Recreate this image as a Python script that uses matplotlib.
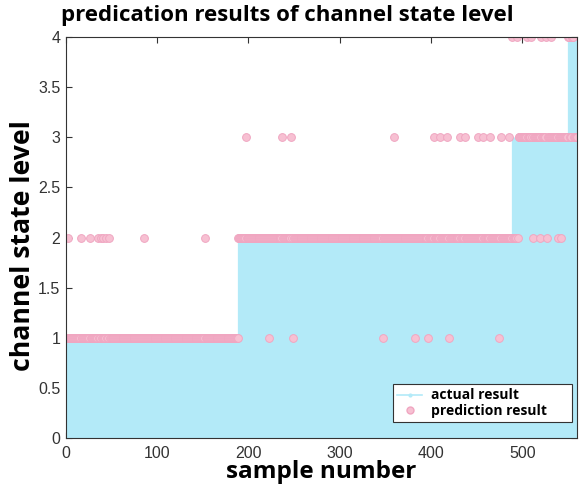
import numpy as np
import matplotlib
matplotlib.use("Agg")
import matplotlib.pyplot as plt
from matplotlib.lines import Line2D
from matplotlib.ticker import FormatStrFormatter

# actual channel state level: step levels and the sample where each starts
n_samples = 560
level_start = [1, 189, 489, 550]
level_value = [1, 2, 3, 4]

# predictions that differ from the actual level (sample -> predicted level)
pred_as_1 = [222, 249, 347, 383, 397, 420, 475]
pred_as_2 = [2, 16, 26, 35, 38, 41, 44, 47, 86, 152,
             490, 491, 492, 493, 495, 512, 519, 527, 539, 543]
pred_as_3 = [197, 237, 247, 359, 403, 410, 417, 432, 437, 452, 457, 465, 477, 485,
             552, 553, 557, 558, 559, 560]
pred_as_4 = [489, 494, 505, 510, 521, 526, 532]

samples = np.arange(1, n_samples + 1)
actual = np.zeros(n_samples)
for start, val in zip(level_start, level_value):
    actual[samples >= start] = val

pred = actual.copy()
for lst, val in [(pred_as_1, 1), (pred_as_2, 2), (pred_as_3, 3), (pred_as_4, 4)]:
    pred[np.array(lst) - 1] = val

stem_color = '#b3eaf8'
pink_face = '#f7c0d2'
pink_edge = '#f0a6c1'

fig = plt.figure(figsize=(5.8, 4.91), dpi=100)
ax = fig.add_axes([0.1138, 0.1079, 0.881, 0.8167])

ax.vlines(samples, 0, actual, color=stem_color, linewidth=0.9)
ax.plot(samples, pred, linestyle='none', marker='o', markersize=5.6,
        markerfacecolor=pink_face, markeredgecolor=pink_edge, markeredgewidth=0.7)

ax.set_xlim(0, 560)
ax.set_ylim(0, 4)
ax.set_xticks([0, 100, 200, 300, 400, 500])
ax.set_yticks(np.arange(0, 4.01, 0.5))
ax.yaxis.set_major_formatter(FormatStrFormatter('%g'))
ax.tick_params(direction='in', top=True, right=True, length=4, width=0.8,
               colors='#333333', labelsize=11.5)
ax.tick_params(axis='x', pad=6)
ax.tick_params(axis='y', pad=4)
for lbl in ax.get_xticklabels() + ax.get_yticklabels():
    lbl.set_fontfamily('Liberation Sans')
for sp in ax.spines.values():
    sp.set_color('#333333')
    sp.set_linewidth(0.8)

fig.text(0.495, 0.968, 'predication results of channel state level', fontsize=16,
         fontweight='bold', family='Open Sans', ha='center', va='center')
ax.set_xlabel('sample number', fontsize=17.5, fontweight='bold',
              family='Open Sans', labelpad=-1)
ax.set_ylabel('channel state level', fontsize=19.2, fontweight='bold',
              family='Open Sans', labelpad=0)
ax.yaxis.set_label_coords(-0.058, 0.481)

handles = [Line2D([0], [0], color=stem_color, linewidth=1.2, marker='.',
                  markersize=4, markevery=[1]),
           Line2D([0], [0], linestyle='none', marker='o', markersize=5,
                  markerfacecolor=pink_face, markeredgecolor=pink_edge)]
leg = ax.legend(handles, ['actual result', 'prediction result'], loc='lower left',
                mode='expand', bbox_to_anchor=(0.640, 0.04, 0.350, 0.08),
                prop={'family': 'Open Sans', 'weight': 'bold', 'size': 10},
                fancybox=False, framealpha=1, edgecolor='#333333',
                borderpad=0.3, labelspacing=0.1, handlelength=1.8,
                handletextpad=0.65, borderaxespad=0)
leg.get_frame().set_linewidth(0.8)

fig.savefig('out.png', dpi=100)
